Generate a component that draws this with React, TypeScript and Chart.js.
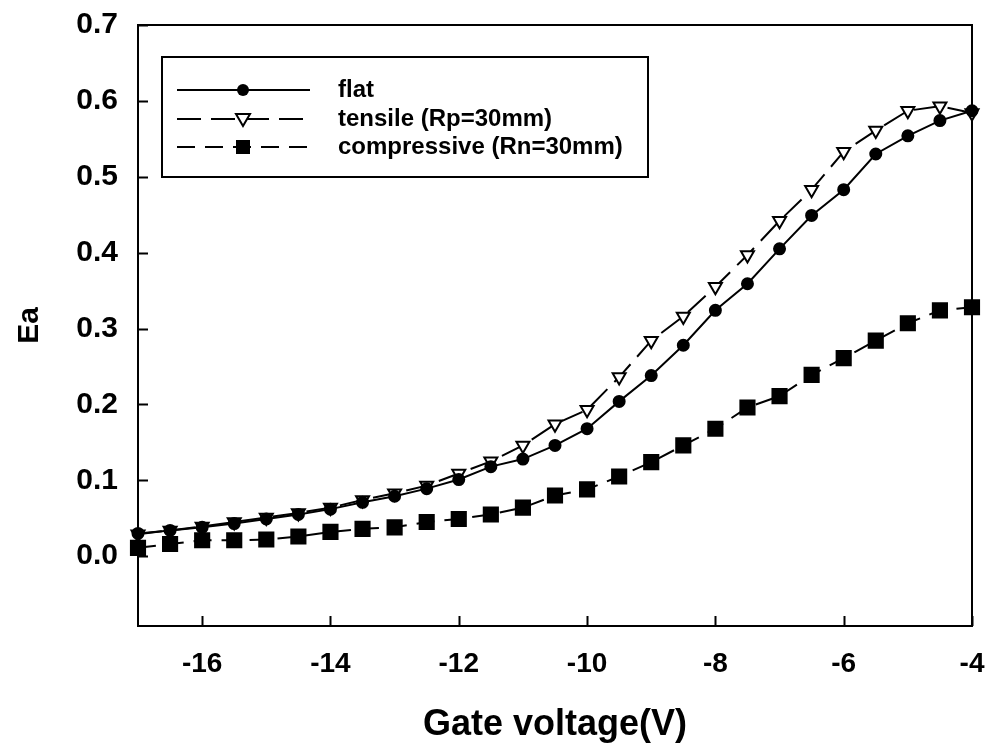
import React, { useEffect, useRef } from 'react';
import { Chart, registerables } from 'chart.js';

Chart.register(...registerables);

const gateVoltage = [-17, -16.5, -16, -15.5, -15, -14.5, -14, -13.5, -13, -12.5, -12, -11.5, -11, -10.5, -10, -9.5, -9, -8.5, -8, -7.5, -7, -6.5, -6, -5.5, -5, -4.5, -4];
const flatEa = [0.030, 0.034, 0.038, 0.043, 0.049, 0.055, 0.062, 0.071, 0.079, 0.089, 0.101, 0.118, 0.128, 0.146, 0.168, 0.204, 0.238, 0.278, 0.324, 0.359, 0.405, 0.449, 0.483, 0.530, 0.554, 0.574, 0.587];
const tensileEa = [0.029, 0.034, 0.039, 0.045, 0.051, 0.057, 0.064, 0.074, 0.083, 0.093, 0.109, 0.125, 0.146, 0.174, 0.193, 0.236, 0.284, 0.316, 0.355, 0.397, 0.442, 0.483, 0.533, 0.561, 0.587, 0.593, 0.584];
const compressiveEa = [0.011, 0.016, 0.021, 0.021, 0.022, 0.026, 0.032, 0.036, 0.038, 0.045, 0.049, 0.055, 0.064, 0.080, 0.088, 0.105, 0.124, 0.146, 0.168, 0.196, 0.211, 0.239, 0.261, 0.284, 0.307, 0.324, 0.328];

const seriesLabels = ['flat', 'tensile (Rp=30mm)', 'compressive (Rn=30mm)'];
const xTickValues = [-16, -14, -12, -10, -8, -6, -4];
const yTickValues = [0, 0.1, 0.2, 0.3, 0.4, 0.5, 0.6, 0.7];
const xTitle = 'Gate voltage(V)';
const yTitle = 'Ea';

const toPoints = (ys: number[]) => ys.map((y, i) => ({ x: gateVoltage[i], y }));

const SANS = '"Liberation Sans", Arial, sans-serif';

const legendStyles = [
  { dash: [] as number[], marker: 'circle' },
  { dash: [24, 10], marker: 'triangleDown' },
  { dash: [18, 10], marker: 'square' },
];

function drawMarker(ctx: CanvasRenderingContext2D, kind: string, x: number, y: number) {
  ctx.save();
  ctx.setLineDash([]);
  ctx.lineWidth = 2;
  ctx.strokeStyle = '#000';
  ctx.beginPath();
  if (kind === 'circle') {
    ctx.fillStyle = '#000';
    ctx.arc(x, y, 6, 0, Math.PI * 2);
    ctx.fill();
  } else if (kind === 'square') {
    ctx.fillStyle = '#000';
    ctx.rect(x - 7, y - 7, 14, 14);
    ctx.fill();
  } else {
    ctx.fillStyle = '#fff';
    ctx.moveTo(x - 7, y - 5);
    ctx.lineTo(x + 7, y - 5);
    ctx.lineTo(x, y + 7);
    ctx.closePath();
    ctx.fill();
    ctx.stroke();
  }
  ctx.restore();
}

const framePlugin = {
  id: 'frameTicks',
  beforeDatasetsDraw(chart: any) {
    const { ctx, chartArea: a, scales } = chart;
    ctx.save();
    ctx.strokeStyle = '#000';
    ctx.lineWidth = 2;
    ctx.setLineDash([]);
    ctx.strokeRect(a.left, a.top, a.right - a.left, a.bottom - a.top);
    ctx.beginPath();
    yTickValues.forEach((v) => {
      const py = Math.round(scales.y.getPixelForValue(v)) + 0.5;
      ctx.moveTo(a.left, py);
      ctx.lineTo(a.left + 10, py);
    });
    xTickValues.forEach((v) => {
      const px = Math.round(scales.x.getPixelForValue(v)) + 0.5;
      ctx.moveTo(px, a.bottom);
      ctx.lineTo(px, a.bottom - 10);
    });
    ctx.stroke();
    ctx.restore();
  },
  afterDraw(chart: any) {
    const { ctx, chartArea: a } = chart;
    const bx = a.left + 24;
    const by = a.top + 32;
    const bw = 486;
    const bh = 120;
    ctx.save();
    ctx.strokeStyle = '#000';
    ctx.lineWidth = 2;
    ctx.setLineDash([]);
    ctx.fillStyle = '#fff';
    ctx.fillRect(bx, by, bw, bh);
    ctx.strokeRect(bx, by, bw, bh);
    const rowY = [by + 33, by + 62, by + 90];
    seriesLabels.forEach((label, i) => {
      const st = legendStyles[i];
      const y = rowY[i];
      ctx.save();
      ctx.lineWidth = 2;
      ctx.setLineDash(st.dash);
      ctx.beginPath();
      ctx.moveTo(bx + 15, y);
      ctx.lineTo(bx + 148, y);
      ctx.stroke();
      ctx.restore();
      drawMarker(ctx, st.marker, bx + 81, y);
      ctx.fillStyle = '#000';
      ctx.font = `bold 24px ${SANS}`;
      ctx.textBaseline = 'middle';
      ctx.textAlign = 'left';
      ctx.fillText(label, bx + 176, y);
    });
    ctx.restore();
  },
};

export default function App() {
  const canvasRef = useRef<HTMLCanvasElement | null>(null);

  useEffect(() => {
    document.body.style.margin = '0';
    const canvas = canvasRef.current;
    if (!canvas) return;
    const common = {
      borderColor: '#000',
      pointBorderColor: '#000',
      borderWidth: 2,
      pointBorderWidth: 2,
      tension: 0,
      clip: false as any,
    };
    const chart = new Chart(canvas, {
      type: 'line',
      data: {
        datasets: [
          {
            ...common,
            label: seriesLabels[0],
            data: toPoints(flatEa),
            pointStyle: 'circle',
            pointRadius: 5.5,
            pointBackgroundColor: '#000',
            backgroundColor: '#000',
          },
          {
            ...common,
            label: seriesLabels[1],
            data: toPoints(tensileEa),
            borderDash: [24, 10],
            pointStyle: 'triangle',
            pointRotation: 180,
            pointRadius: 7.5,
            pointBackgroundColor: '#fff',
            backgroundColor: '#fff',
          },
          {
            ...common,
            label: seriesLabels[2],
            data: toPoints(compressiveEa),
            borderDash: [18, 10],
            pointStyle: 'rect',
            pointRadius: 10,
            pointBackgroundColor: '#000',
            backgroundColor: '#000',
          },
        ],
      },
      options: {
        responsive: false,
        animation: false,
        devicePixelRatio: 1,
        layout: { padding: { top: 25, right: 18, left: 0, bottom: 0 } },
        plugins: { legend: { display: false }, tooltip: { enabled: false } },
        scales: {
          x: {
            type: 'linear',
            min: -17,
            max: -4,
            afterBuildTicks: (s: any) => {
              s.ticks = xTickValues.map((v) => ({ value: v }));
            },
            afterFit: (s: any) => {
              s.height = 125;
              s.paddingLeft = 0;
              s.paddingRight = 0;
            },
            grid: { display: false, drawTicks: false },
            border: { display: false },
            ticks: {
              color: '#000',
              padding: 21,
              maxRotation: 0,
              autoSkip: false,
              font: { family: SANS, size: 28, weight: 'bold' },
              callback: (v: any) => String(v),
            },
            title: {
              display: true,
              text: xTitle,
              color: '#000',
              font: { family: SANS, size: 36, weight: 'bold' },
              padding: { top: 0, bottom: 4 },
            },
          },
          y: {
            type: 'linear',
            min: -0.092,
            max: 0.7,
            afterBuildTicks: (s: any) => {
              s.ticks = yTickValues.map((v) => ({ value: v }));
            },
            afterFit: (s: any) => {
              s.width = 138;
              s.paddingTop = 0;
              s.paddingBottom = 0;
            },
            grid: { display: false, drawTicks: false },
            border: { display: false },
            ticks: {
              color: '#000',
              padding: 20,
              autoSkip: false,
              font: { family: SANS, size: 30, weight: 'bold' },
              callback: (v: any) => Number(v).toFixed(1),
            },
            title: {
              display: true,
              text: yTitle,
              color: '#000',
              font: { family: SANS, size: 30, weight: 'bold' },
              padding: { top: 12, bottom: 0 },
            },
          },
        },
      },
      plugins: [framePlugin],
    } as any);
    return () => chart.destroy();
  }, []);

  return (
    <div style={{ width: 990, height: 751, background: '#fff' }}>
      <canvas ref={canvasRef} width={990} height={751} style={{ width: 990, height: 751, display: 'block' }} />
    </div>
  );
}
